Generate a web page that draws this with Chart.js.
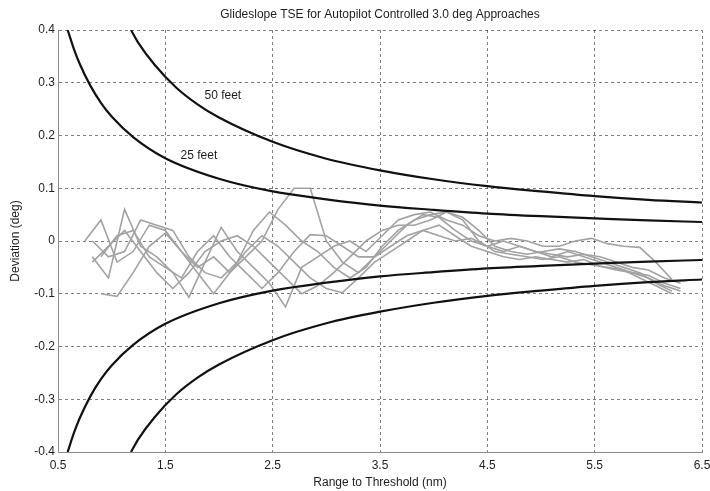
<!DOCTYPE html>
<html>
<head>
<meta charset="utf-8">
<script src="https://cdn.jsdelivr.net/npm/chart.js@4.4.1/dist/chart.umd.min.js"></script>
<style>
  html, body { margin: 0; padding: 0; background: #fff; }
</style>
</head>
<body>
<canvas id="chart" width="710" height="491"></canvas>
<script>
// ---- data ----
const xTicks = [0.5, 1.5, 2.5, 3.5, 4.5, 5.5, 6.5];
const yTicks = [-0.4, -0.3, -0.2, -0.1, 0, 0.1, 0.2, 0.3, 0.4];

// 25 ft / 50 ft limit curves
const range25 = [0.59, 0.65, 0.7, 0.8, 0.9, 1.0, 1.2, 1.5, 2.0, 2.5, 3.0, 3.5, 4.0, 4.5, 5.0, 5.5, 6.0, 6.5];
const upper25 = [0.400, 0.363, 0.337, 0.295, 0.262, 0.236, 0.197, 0.157, 0.118, 0.094, 0.079, 0.067, 0.059, 0.052, 0.047, 0.043, 0.039, 0.036];
const lower25 = [-0.400, -0.363, -0.337, -0.295, -0.262, -0.236, -0.197, -0.157, -0.118, -0.094, -0.079, -0.067, -0.059, -0.052, -0.047, -0.043, -0.039, -0.036];
const range50 = [1.18, 1.25, 1.4, 1.6, 1.8, 2.0, 2.5, 3.0, 3.5, 4.0, 4.5, 5.0, 5.5, 6.0, 6.5];
const upper50 = [0.400, 0.375, 0.334, 0.291, 0.259, 0.234, 0.188, 0.156, 0.134, 0.117, 0.104, 0.094, 0.085, 0.078, 0.073];
const lower50 = [-0.400, -0.375, -0.334, -0.291, -0.259, -0.234, -0.188, -0.156, -0.134, -0.117, -0.104, -0.094, -0.085, -0.078, -0.073];

// recorded approaches (two sampling grids)
const gridA = [0.75, 0.90, 1.05, 1.20, 1.35, 1.50, 1.65, 1.80, 1.95, 2.10, 2.25, 2.40, 2.55, 2.70, 2.85, 3.00, 3.15, 3.30, 3.45, 3.60,
  3.75, 3.90, 4.05, 4.20, 4.35, 4.50, 4.65, 4.80, 4.95, 5.10, 5.25, 5.40, 5.55, 5.70, 5.85, 6.00, 6.15, 6.30];
const gridB = [0.82, 0.97, 1.12, 1.27, 1.42, 1.57, 1.72, 1.87, 2.02, 2.17, 2.32, 2.47, 2.62, 2.77, 2.92, 3.07, 3.22, 3.37, 3.52,
  3.67, 3.82, 3.97, 4.12, 4.27, 4.42, 4.57, 4.72, 4.87, 5.02, 5.17, 5.32, 5.47, 5.62, 5.77, 5.92, 6.07, 6.22];

const track1 = [0.0, 0.04, -0.04, -0.02, 0.03, 0.02, -0.02, -0.05, -0.03, -0.06, -0.03, 0.0, 0.06, 0.10, 0.10, 0.0, -0.04, -0.06, -0.03, 0.0,
  0.03, 0.05, 0.045, 0.02, 0.0, -0.01, -0.02, -0.01, -0.02, -0.03, -0.02, -0.03, -0.04, -0.05, -0.06, -0.065, -0.08, -0.09];
const track3 = [null, -0.1, -0.105, -0.06, -0.01, 0.015, -0.02, -0.06, -0.1, -0.06, -0.02, 0.01, -0.01, -0.04, -0.07, -0.09, -0.098, -0.07, -0.04, -0.02,
  0.0, 0.02, 0.03, 0.01, -0.01, -0.02, -0.03, -0.035, -0.03, -0.035, -0.04, -0.035, -0.048, -0.055, -0.06, -0.07, -0.085, -0.095];
const track5 = [null, -0.03, 0.01, 0.02, -0.03, -0.05, -0.07, -0.02, 0.01, -0.03, -0.06, -0.09, -0.06, -0.02, 0.012, 0.01, -0.01, -0.03, -0.03, -0.01,
  0.01, 0.02, 0.01, 0.0, 0.005, -0.01, 0.0, -0.01, -0.02, -0.025, -0.03, -0.025, -0.03, -0.04, -0.05, -0.055, -0.07, -0.08];
const track2 = [-0.03, -0.07, 0.06, -0.01, -0.03, -0.06, -0.107, -0.04, 0.026, -0.02, -0.05, -0.08, -0.125, -0.05, -0.03, -0.01, 0.0, -0.02, 0.01,
  0.04, 0.05, 0.055, 0.04, 0.03, 0.01, 0.0, 0.005, 0.0, -0.01, -0.01, 0.0, 0.005, -0.005, -0.01, -0.012, -0.04, -0.073];
const track4 = [0.0, -0.03, -0.02, 0.04, 0.03, 0.02, -0.03, -0.06, -0.07, -0.04, 0.02, 0.055, 0.03, 0.0, -0.02, -0.05, -0.07, -0.05, -0.01,
  0.02, 0.04, 0.05, 0.055, 0.045, 0.02, -0.01, -0.02, -0.025, -0.02, -0.015, -0.02, -0.03, -0.04, -0.05, -0.06, -0.08, -0.095];
const track6 = [-0.04, -0.01, 0.02, -0.02, -0.06, -0.09, -0.06, -0.02, 0.0, 0.01, -0.01, -0.04, -0.07, -0.1, -0.085, -0.06, -0.03, 0.0, 0.02,
  0.03, 0.03, 0.04, 0.055, 0.04, 0.0, -0.02, -0.025, -0.03, -0.035, -0.03, -0.04, -0.045, -0.05, -0.055, -0.07, -0.085, -0.1];

const curveLabels = [
  { text: "50 feet", x: 1.865, y: 0.275 },
  { text: "25 feet", x: 1.642, y: 0.161 }
];

const FONT = "'Liberation Sans', Arial, sans-serif";
const TEXT = "#1e1e1e";

function pairs(xs, ys) {
  return xs.map((x, i) => ({ x: x, y: ys[i] }));
}

function limitLine(xs, ys) {
  return {
    data: pairs(xs, ys),
    borderColor: "#111",
    borderWidth: 2.2,
    pointRadius: 0,
    cubicInterpolationMode: "monotone"
  };
}

function trackLine(xs, ys) {
  return {
    data: pairs(xs, ys),
    borderColor: "#a2a2a2",
    borderWidth: 1.6,
    pointRadius: 0,
    tension: 0,
    spanGaps: false
  };
}

// title + curve labels
const textPlugin = {
  id: "texts",
  afterDraw(chart) {
    const { ctx, chartArea, scales } = chart;
    ctx.save();
    ctx.fillStyle = TEXT;
    ctx.font = "12px " + FONT;
    ctx.textAlign = "center";
    ctx.textBaseline = "middle";
    ctx.fillText("Glideslope TSE for Autopilot Controlled 3.0 deg Approaches",
      (chartArea.left + chartArea.right) / 2, chartArea.top / 2);
    ctx.textAlign = "left";
    curveLabels.forEach(l => {
      ctx.fillText(l.text, scales.x.getPixelForValue(l.x), scales.y.getPixelForValue(l.y));
    });
    ctx.restore();
  }
};

const gridOpts = {
  color: "rgba(0,0,0,0.5)",
  lineWidth: 1,
  drawTicks: false
};

new Chart(document.getElementById("chart"), {
  type: "line",
  data: {
    datasets: [
      limitLine(range25, upper25),
      limitLine(range25, lower25),
      limitLine(range50, upper50),
      limitLine(range50, lower50),
      trackLine(gridA, track1),
      trackLine(gridB, track2),
      trackLine(gridA, track3),
      trackLine(gridB, track4),
      trackLine(gridA, track5),
      trackLine(gridB, track6)
    ]
  },
  options: {
    responsive: false,
    animation: false,
    devicePixelRatio: 1,
    layout: { padding: { top: 30, right: 8, left: 0, bottom: 0 } },
    plugins: {
      legend: { display: false },
      tooltip: { enabled: false }
    },
    scales: {
      x: {
        type: "linear",
        min: 0.5,
        max: 6.5,
        afterBuildTicks: s => { s.ticks = xTicks.map(v => ({ value: v })); },
        afterFit: s => { s.height = 39; s.paddingLeft = 0; s.paddingRight = 0; },
        ticks: {
          color: TEXT,
          font: { family: FONT, size: 12 },
          padding: 6,
          maxRotation: 0,
          autoSkip: false,
          callback: v => String(v)
        },
        grid: gridOpts,
        border: { display: true, color: "#8a8a8a", width: 1, dash: [3, 3] },
        title: {
          display: true,
          text: "Range to Threshold (nm)",
          color: TEXT,
          font: { family: FONT, size: 12 },
          padding: { top: 0, bottom: 1 }
        }
      },
      y: {
        type: "linear",
        min: -0.4,
        max: 0.4,
        afterBuildTicks: s => { s.ticks = yTicks.map(v => ({ value: v })); },
        afterFit: s => { s.width = 58; s.paddingTop = 0; s.paddingBottom = 0; },
        ticks: {
          color: TEXT,
          font: { family: FONT, size: 12 },
          padding: 3,
          callback: v => String(Number(v.toFixed(1)))
        },
        grid: gridOpts,
        border: { display: true, color: "#8a8a8a", width: 1, dash: [3, 3] },
        title: {
          display: true,
          text: "Deviation (deg)",
          color: TEXT,
          font: { family: FONT, size: 12 },
          padding: { top: 8, bottom: 0 }
        }
      }
    }
  },
  plugins: [textPlugin]
});
</script>
</body>
</html>
